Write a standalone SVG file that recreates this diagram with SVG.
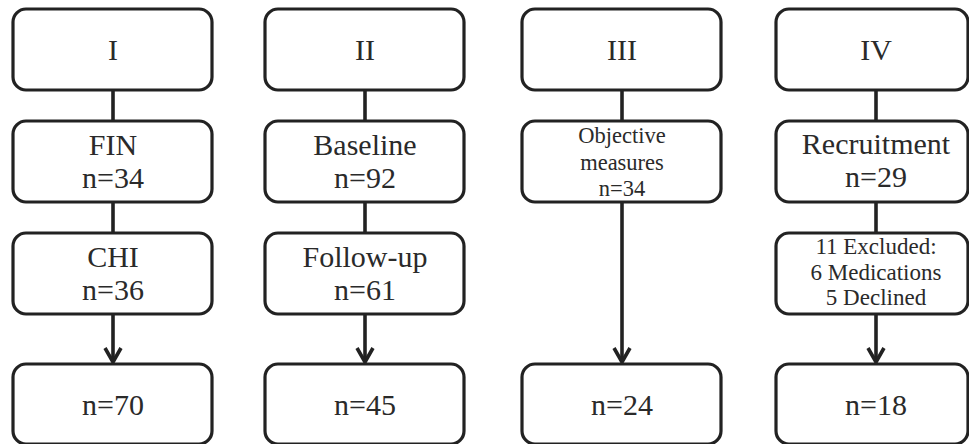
<svg xmlns="http://www.w3.org/2000/svg" width="969" height="444" viewBox="0 0 969 444">
<style>
.box{fill:#fff;stroke:#222;stroke-width:3.2}
.t{font-family:"Liberation Serif","Times New Roman",serif;font-size:30px;fill:#2a2a2a;text-anchor:middle}
.s{font-size:22.5px}
.m{font-size:23px}
.c line{stroke:#222;stroke-width:3.6}
.c path{fill:none;stroke:#222;stroke-width:3.6;stroke-linejoin:miter}
</style>
<rect width="969" height="444" fill="#fff"/>
<g class="c" id="connectors">
<line x1="113" y1="90" x2="113" y2="121"/>
<line x1="113" y1="202" x2="113" y2="233"/>
<line x1="113" y1="314" x2="113" y2="362"/>
<path d="M105 348 L113 362 L121 348"/>
<line x1="365" y1="90" x2="365" y2="121"/>
<line x1="365" y1="202" x2="365" y2="233"/>
<line x1="365" y1="314" x2="365" y2="362"/>
<path d="M357 348 L365 362 L373 348"/>
<line x1="622" y1="90" x2="622" y2="121"/>
<line x1="622" y1="202" x2="622" y2="362"/>
<path d="M614 348 L622 362 L630 348"/>
<line x1="876" y1="90" x2="876" y2="121"/>
<line x1="876" y1="202" x2="876" y2="233"/>
<line x1="876" y1="314" x2="876" y2="362"/>
<path d="M868 348 L876 362 L884 348"/>
</g>
<g id="n-I"><rect class="box" x="13" y="9" width="199" height="81" rx="13"/><text class="t" x="113" y="60">I</text></g>
<g id="n-FIN"><rect class="box" x="13" y="121" width="199" height="81" rx="13"/><text class="t" x="113" y="155">FIN</text><text class="t" x="113" y="188">n=34</text></g>
<g id="n-CHI"><rect class="box" x="13" y="233" width="199" height="81" rx="13"/><text class="t" x="113" y="267">CHI</text><text class="t" x="113" y="300">n=36</text></g>
<g id="n-70"><rect class="box" x="13" y="364" width="199" height="80" rx="13"/><text class="t" x="113" y="415">n=70</text></g>

<g id="n-II"><rect class="box" x="265" y="9" width="199" height="81" rx="13"/><text class="t" x="365" y="60">II</text></g>
<g id="n-baseline"><rect class="box" x="265" y="121" width="199" height="81" rx="13"/><text class="t" x="365" y="155">Baseline</text><text class="t" x="365" y="188">n=92</text></g>
<g id="n-followup"><rect class="box" x="265" y="233" width="199" height="81" rx="13"/><text class="t" x="365" y="267">Follow-up</text><text class="t" x="365" y="300">n=61</text></g>
<g id="n-45"><rect class="box" x="265" y="364" width="199" height="80" rx="13"/><text class="t" x="365" y="415">n=45</text></g>

<g id="n-III"><rect class="box" x="522" y="9" width="199" height="81" rx="13"/><text class="t" x="622" y="60">III</text></g>
<g id="n-objective"><rect class="box" x="522" y="121" width="199" height="81" rx="13"/><text class="t s" x="622" y="143">Objective</text><text class="t s" x="622" y="170">measures</text><text class="t s" x="622" y="196">n=34</text></g>
<g id="n-24"><rect class="box" x="522" y="364" width="199" height="80" rx="13"/><text class="t" x="622" y="415">n=24</text></g>

<g id="n-IV"><rect class="box" x="776" y="9" width="192" height="81" rx="13"/><text class="t" x="876" y="60">IV</text></g>
<g id="n-recruitment"><rect class="box" x="776" y="121" width="192" height="81" rx="13"/><text class="t" x="876" y="154">Recruitment</text><text class="t" x="876" y="187">n=29</text></g>
<g id="n-excluded"><rect class="box" x="776" y="233" width="192" height="81" rx="13"/><text class="t m" x="876" y="254">11 Excluded:</text><text class="t m" x="876" y="280">6 Medications</text><text class="t m" x="876" y="305">5 Declined</text></g>
<g id="n-18"><rect class="box" x="776" y="364" width="192" height="80" rx="13"/><text class="t" x="876" y="415">n=18</text></g>
</svg>
